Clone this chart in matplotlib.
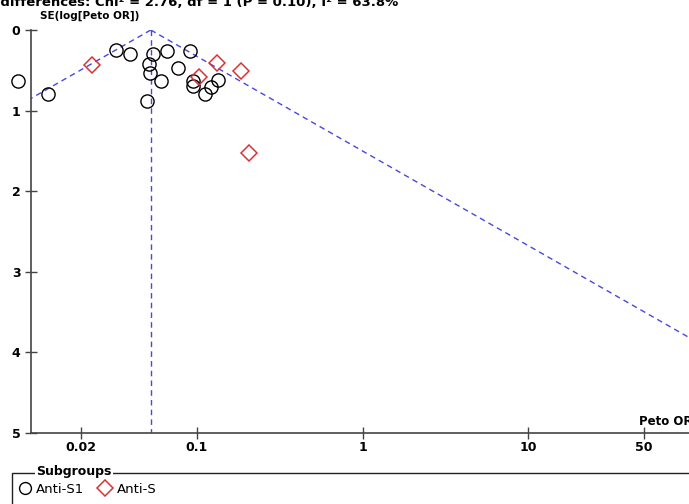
# Funnel plot (Peto OR vs SE) with two subgroups, RevMan style.
import numpy as np
import matplotlib

matplotlib.use("Agg")
import matplotlib.pyplot as plt
from matplotlib.patches import Rectangle

title_text = "Test for subgroup differences: Chi\u00b2 = 2.76, df = 1 (P = 0.10), I\u00b2 = 63.8%"

# Anti-S1 studies (circles)
s1_or = [0.00835, 0.0127, 0.0327, 0.0395, 0.0541, 0.0516, 0.0524, 0.0498, 0.0607,
         0.0659, 0.0771, 0.0916, 0.095, 0.095, 0.1128, 0.1226, 0.134]
s1_se = [0.634, 0.796, 0.249, 0.299, 0.302, 0.423, 0.531, 0.883, 0.634,
         0.261, 0.469, 0.261, 0.630, 0.692, 0.796, 0.713, 0.622]

# Anti-S studies (diamonds)
s_or = [0.0233, 0.1028, 0.1325, 0.185, 0.2066]
s_se = [0.435, 0.581, 0.415, 0.506, 1.52]

pooled_or = 0.0528
se_max = 5

x_ticks = [0.02, 0.1, 1, 10, 50]
x_tick_labels = ["0.02", "0.1", "1", "10", "50"]
y_ticks = [0, 1, 2, 3, 4, 5]

W, H = 689, 504
fig = plt.figure(figsize=(W / 100, H / 100), dpi=100)

# axes placed in pixel terms; right edge runs a little past the figure (cropped original)
left, right, top, bottom = 31, 694, 30, 433
ax = fig.add_axes([left / W, 1 - bottom / H, (right - left) / W, (bottom - top) / H])

blue = "#4848dc"
red = "#d83434"

se_grid = np.array([0, se_max])
ax.plot(pooled_or * np.exp(-1.96 * se_grid), se_grid, color=blue, lw=1, ls=(0, (4, 3)))
ax.plot(pooled_or * np.exp(1.96 * se_grid), se_grid, color=blue, lw=1, ls=(0, (4, 3)))
ax.plot([pooled_or, pooled_or], [0, se_max], color=blue, lw=1, ls=(0, (4, 3)))

h1, = ax.plot(s1_or, s1_se, ls="none", marker="o", ms=9.5, mfc="none",
              mec="black", mew=1, clip_on=False, label="Anti-S1")
h2, = ax.plot(s_or, s_se, ls="none", marker="D", ms=8.5, mfc="none",
              mec=red, mew=1.1, clip_on=False, label="Anti-S")

ax.set_xscale("log")
ax.set_xlim(0.01, 100)
ax.set_ylim(se_max, 0)
ax.set_xticks(x_ticks)
ax.set_xticklabels(x_tick_labels)
ax.minorticks_off()
ax.set_yticks(y_ticks)

for s in ("top", "right"):
    ax.spines[s].set_visible(False)
for s in ("left", "bottom"):
    ax.spines[s].set_color("#444444")
    ax.spines[s].set_linewidth(1.2)

ax.tick_params(axis="both", direction="inout", length=9, width=1, color="#444444",
               labelsize=9)
ax.tick_params(axis="y", pad=3)
ax.tick_params(axis="x", pad=1)
for lab in ax.get_xticklabels() + ax.get_yticklabels():
    lab.set_fontweight("bold")

fig.text(40 / W, 1 - 19 / H, "SE(log[Peto OR])", fontsize=7.5, fontweight="bold",
         ha="left", va="baseline")
fig.text(639 / W, 1 - 425 / H, "Peto OR", fontsize=8.5, fontweight="bold",
         ha="left", va="baseline")

# heading, cut off by the crop as in the original
fig.text(398 / W, 1 - 6 / H, title_text, fontsize=9.5, fontweight="bold",
         ha="right", va="baseline")

# legend frame with title sitting on the top line
fig.add_artist(Rectangle((12 / W, -0.05), 1.0, (0.05 + 1 - 473 / H),
                         transform=fig.transFigure, fill=False, ec="#222222", lw=1))
fig.text(36 / W, 1 - 472 / H, "Subgroups", fontsize=9, fontweight="bold",
         ha="left", va="center",
         bbox=dict(fc="white", ec="none", pad=1))
fig.legend(handles=[h1, h2], loc="upper left", bbox_to_anchor=(17 / W, 1 - 480 / H),
           ncol=2, frameon=False, fontsize=9.5, handlelength=0.8, handletextpad=0.45,
           columnspacing=1.2, borderaxespad=0, borderpad=0.2, markerscale=0.9)

fig.savefig("out.png", dpi=100)
